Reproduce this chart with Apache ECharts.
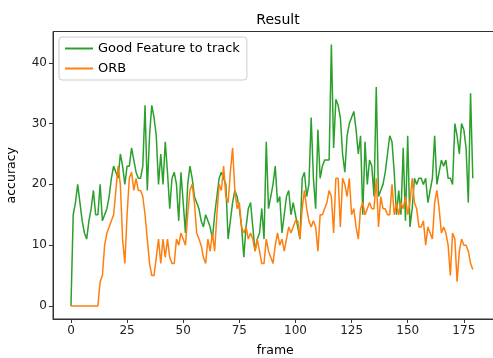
<!DOCTYPE html>
<html><head><meta charset="utf-8">
<script src="https://cdn.jsdelivr.net/npm/echarts@6/dist/echarts.min.js"></script>
<style>html,body{margin:0;padding:0;background:#fff}#c{width:493px;height:358px}</style>
</head><body><div id="c"></div>
<script>
const gftValues = [0,15,17,20,17,14,12,11,14,16,19,15,15,20,14,15,16,18,21,23,
22,21,25,23,20,23,23,26,24,22,21,21,23,33,19,28,33,31,28,20,
25,20,27,22,16,21,22,20,14,22,17,12,20,23,21,18,17,16,14,13,
15,14,13,11,15,18,21,22,21,20,11,14,17,19,18,16,13,8,13,16,
17,13,9,11,12,16,11,27,16,18,20,23,17,18,12,15,18,19,15,17,
15,13,11,21,22,18,20,31,21,16,29,21,23,24,24,24,43,26,34,33,
31,25,22,28,30,31,32,29,25,28,15,27,20,24,23,18,36,18,19,20,
22,25,28,27,22,15,19,15,26,14,28,13,16,21,20,21,21,20,21,17,
19,21,28,20,22,24,23,24,21,21,20,30,28,25,30,29,26,17,35,21];
const orbValues = [0,0,0,0,0,0,0,0,0,0,0,0,0,4,5,10,12,13,14,15,
19,23,20,11,7,15,21,22,19,21,19,19,18,15,11,7,5,5,8,11,
7,11,8,11,8,7,7,11,10,12,11,10,15,19,20,17,12,11,10,8,
7,11,9,12,9,15,20,19,23,18,17,22,26,19,16,17,13,12,13,11,
12,11,9,11,9,7,7,11,9,8,7,10,12,10,11,9,11,13,12,13,
14,14,11,16,19,16,14,13,14,13,9,15,15,16,17,19,18,12,21,21,
13,21,20,18,21,15,16,13,11,16,17,15,16,17,16,16,21,13,18,16,
16,15,15,20,15,17,15,17,16,18,15,17,21,17,16,13,13,14,10,13,
12,11,17,19,16,12,13,12,10,5,12,11,4,9,11,10,10,9,7,6];
const xTicks = [0,25,50,75,100,125,150,175];
const yTicks = [0,10,20,30,40];
const seriesNames = ['Good Feature to track','ORB'];

const toPairs = arr => arr.map((v,i)=>[i,v]);
const font = 'DejaVu Sans';
const chart = echarts.init(document.getElementById('c'));
chart.setOption({
  animation:false,
  title:{text:'Result',left:273,top:8,textAlign:'center',textStyle:{fontFamily:font,fontSize:14,fontWeight:'normal',color:'#000'}},
  legend:{
    left:59,top:37,orient:'vertical',itemGap:7,itemWidth:28,itemHeight:2,
    padding:[5,7,5,6],borderColor:'#ccc',borderWidth:1,borderRadius:3,backgroundColor:'rgba(255,255,255,0.8)',
    textStyle:{fontFamily:font,fontSize:13,color:'#000'},
    data:seriesNames.map(n=>({name:n,icon:'rect'}))
  },
  grid:{left:53,top:31.5,width:444.5,height:287.5,show:true,borderColor:'#333',borderWidth:1,containLabel:false,outerBoundsMode:'none'},
  xAxis:{type:'value',min:-8,max:190,name:'frame',nameLocation:'middle',nameGap:25,
    nameTextStyle:{fontFamily:font,fontSize:12.5,color:'#000'},
    splitLine:{show:false},axisLine:{show:true,onZero:false,lineStyle:{color:'#333'}},
    axisTick:{show:true,length:4,lineStyle:{color:'#333'},customValues:xTicks},
    axisLabel:{fontFamily:font,fontSize:12,color:'#222',margin:6,customValues:xTicks}},
  yAxis:{type:'value',min:-2.15,max:45.15,name:'accuracy',nameLocation:'middle',nameGap:35,nameRotate:90,
    nameTextStyle:{fontFamily:font,fontSize:12.5,color:'#000'},
    splitLine:{show:false},axisLine:{show:true,onZero:false,lineStyle:{color:'#333'}},
    axisTick:{show:true,length:4,lineStyle:{color:'#333'},customValues:yTicks},
    axisLabel:{fontFamily:font,fontSize:12,color:'#222',margin:6,customValues:yTicks}},
  series:[
    {name:seriesNames[0],type:'line',data:toPairs(gftValues),showSymbol:false,symbol:'none',
     lineStyle:{color:'#2ca02c',width:1.5},itemStyle:{color:'#2ca02c'}},
    {name:seriesNames[1],type:'line',data:toPairs(orbValues),showSymbol:false,symbol:'none',
     lineStyle:{color:'#ff7f0e',width:1.5},itemStyle:{color:'#ff7f0e'}}
  ]
});
</script></body></html>
